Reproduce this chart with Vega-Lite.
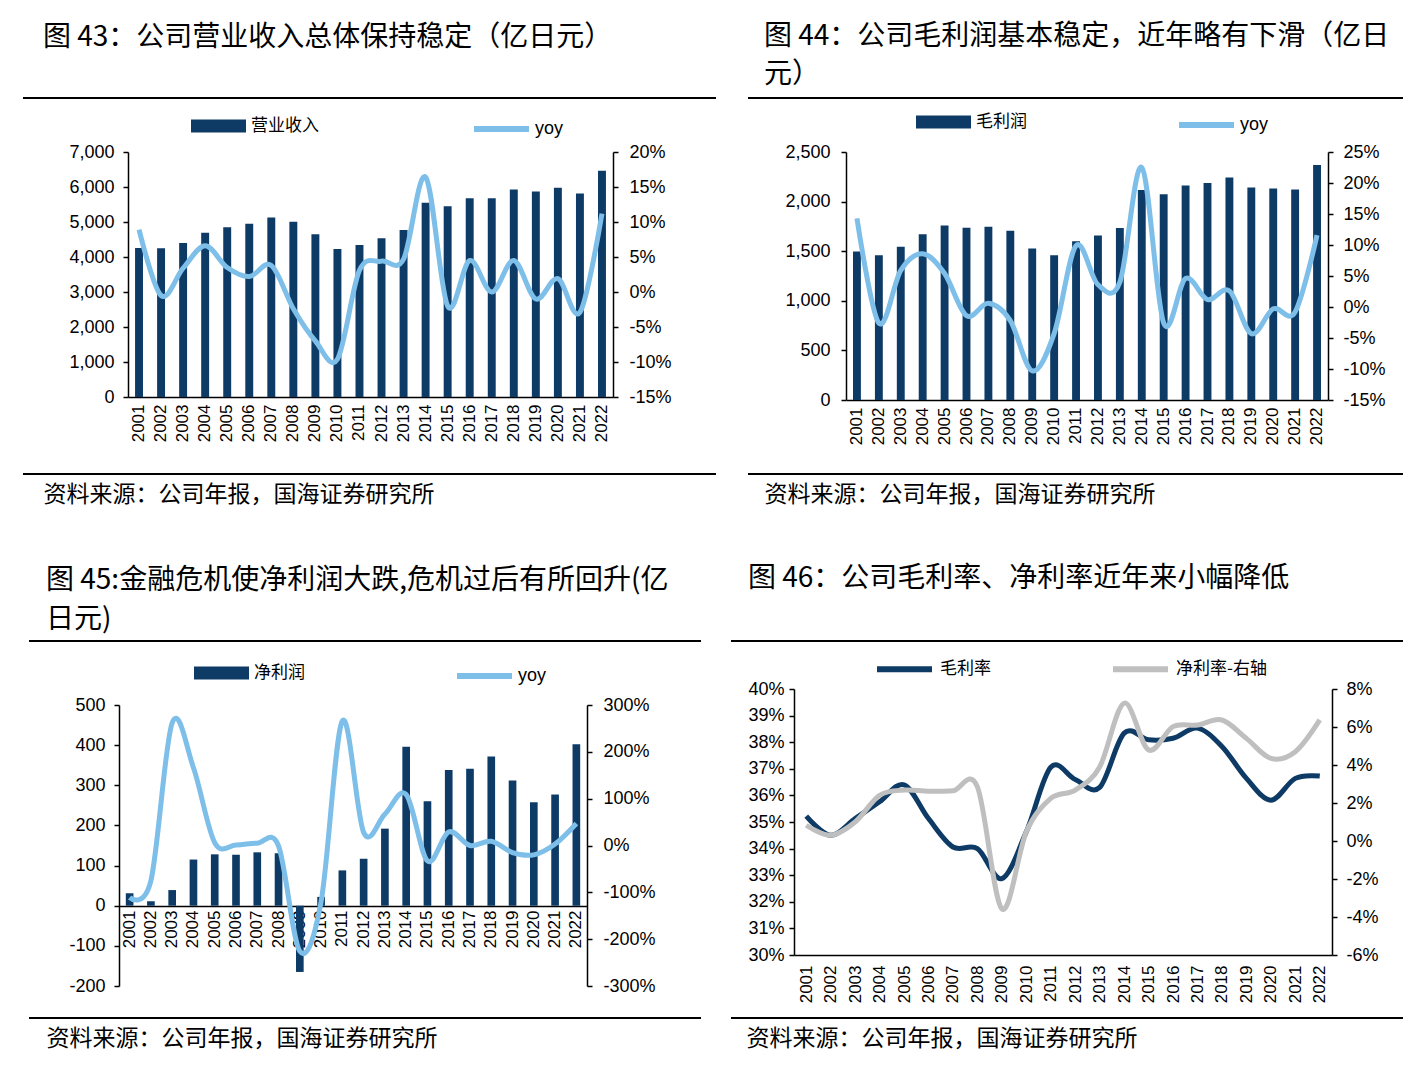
{
  "$schema": "https://vega.github.io/schema/vega-lite/v6.json",
  "background": "white",
  "padding": {"left": 22, "top": 21, "right": 0, "bottom": 0},
  "datasets": {
    "d1": [
      {"year": "2001", "rev": 4260, "yoy": 8.9},
      {"year": "2002", "rev": 4250, "yoy": -0.5},
      {"year": "2003", "rev": 4400, "yoy": 3.4},
      {"year": "2004", "rev": 4690, "yoy": 6.6},
      {"year": "2005", "rev": 4850, "yoy": 3.5},
      {"year": "2006", "rev": 4950, "yoy": 2.2},
      {"year": "2007", "rev": 5130, "yoy": 3.8},
      {"year": "2008", "rev": 5010, "yoy": -2.4},
      {"year": "2009", "rev": 4650, "yoy": -7.0},
      {"year": "2010", "rev": 4230, "yoy": -9.6},
      {"year": "2011", "rev": 4345, "yoy": 3.1},
      {"year": "2012", "rev": 4537, "yoy": 4.4},
      {"year": "2013", "rev": 4775, "yoy": 4.7},
      {"year": "2014", "rev": 5550, "yoy": 16.4},
      {"year": "2015", "rev": 5450, "yoy": -2.0},
      {"year": "2016", "rev": 5680, "yoy": 4.5},
      {"year": "2017", "rev": 5680, "yoy": 0.0},
      {"year": "2018", "rev": 5930, "yoy": 4.5},
      {"year": "2019", "rev": 5875, "yoy": -1.0},
      {"year": "2020", "rev": 5980, "yoy": 1.9},
      {"year": "2021", "rev": 5815, "yoy": -2.9},
      {"year": "2022", "rev": 6465, "yoy": 11.2}
    ],
    "d2": [
      {"year": "2001", "gp": 1497, "yoy": 14.3},
      {"year": "2002", "gp": 1460, "yoy": -2.6},
      {"year": "2003", "gp": 1544, "yoy": 5.9},
      {"year": "2004", "gp": 1672, "yoy": 8.6},
      {"year": "2005", "gp": 1760, "yoy": 5.4},
      {"year": "2006", "gp": 1736, "yoy": -1.4},
      {"year": "2007", "gp": 1746, "yoy": 0.6},
      {"year": "2008", "gp": 1706, "yoy": -2.2},
      {"year": "2009", "gp": 1527, "yoy": -10.3},
      {"year": "2010", "gp": 1460, "yoy": -4.3},
      {"year": "2011", "gp": 1601, "yoy": 9.9},
      {"year": "2012", "gp": 1659, "yoy": 3.6},
      {"year": "2013", "gp": 1733, "yoy": 4.0},
      {"year": "2014", "gp": 2116, "yoy": 22.5},
      {"year": "2015", "gp": 2073, "yoy": -2.6},
      {"year": "2016", "gp": 2163, "yoy": 4.6},
      {"year": "2017", "gp": 2187, "yoy": 1.2},
      {"year": "2018", "gp": 2244, "yoy": 2.6},
      {"year": "2019", "gp": 2143, "yoy": -4.3},
      {"year": "2020", "gp": 2133, "yoy": -0.3},
      {"year": "2021", "gp": 2123, "yoy": -0.8},
      {"year": "2022", "gp": 2369, "yoy": 11.6}
    ],
    "d3": [
      {"year": "2001", "np": 31, "yoy": -111},
      {"year": "2002", "np": 11, "yoy": -75},
      {"year": "2003", "np": 39, "yoy": 262},
      {"year": "2004", "np": 115, "yoy": 166},
      {"year": "2005", "np": 128, "yoy": 6},
      {"year": "2006", "np": 127, "yoy": 1},
      {"year": "2007", "np": 133, "yoy": 5},
      {"year": "2008", "np": 131, "yoy": -1},
      {"year": "2009", "np": -165, "yoy": -226},
      {"year": "2010", "np": 22, "yoy": -120},
      {"year": "2011", "np": 88, "yoy": 266},
      {"year": "2012", "np": 117, "yoy": 28},
      {"year": "2013", "np": 192, "yoy": 67},
      {"year": "2014", "np": 396, "yoy": 109},
      {"year": "2015", "np": 260, "yoy": -33},
      {"year": "2016", "np": 338, "yoy": 29},
      {"year": "2017", "np": 341, "yoy": 0},
      {"year": "2018", "np": 372, "yoy": 9},
      {"year": "2019", "np": 312, "yoy": -15},
      {"year": "2020", "np": 258, "yoy": -20},
      {"year": "2021", "np": 277, "yoy": 3},
      {"year": "2022", "np": 402, "yoy": 47}
    ],
    "d4": [
      {"year": "2001", "gm": 35.22, "nm": 0.83},
      {"year": "2002", "gm": 34.5, "nm": 0.3},
      {"year": "2003", "gm": 35.13, "nm": 1.0},
      {"year": "2004", "gm": 35.76, "nm": 2.4},
      {"year": "2005", "gm": 36.4, "nm": 2.68},
      {"year": "2006", "gm": 35.13, "nm": 2.62},
      {"year": "2007", "gm": 34.06, "nm": 2.64},
      {"year": "2008", "gm": 34.0, "nm": 2.85},
      {"year": "2009", "gm": 32.87, "nm": -3.57},
      {"year": "2010", "gm": 34.63, "nm": 0.48},
      {"year": "2011", "gm": 37.06, "nm": 2.24},
      {"year": "2012", "gm": 36.6, "nm": 2.68},
      {"year": "2013", "gm": 36.3, "nm": 3.9},
      {"year": "2014", "gm": 38.34, "nm": 7.25},
      {"year": "2015", "gm": 38.09, "nm": 4.79},
      {"year": "2016", "gm": 38.15, "nm": 6.02},
      {"year": "2017", "gm": 38.53, "nm": 6.1},
      {"year": "2018", "gm": 37.84, "nm": 6.37},
      {"year": "2019", "gm": 36.64, "nm": 5.4},
      {"year": "2020", "gm": 35.82, "nm": 4.35},
      {"year": "2021", "gm": 36.64, "nm": 4.7},
      {"year": "2022", "gm": 36.73, "nm": 6.37}
    ]
  },
  "config": {
    "font": "Liberation Sans",
    "view": {"stroke": null},
    "axis": {"grid": false, "labelFont": "Liberation Sans", "labelFontSize": 18, "labelColor": "#000", "domainColor": "#000", "tickColor": "#000", "domainWidth": 1.5, "tickWidth": 1.5, "tickSize": 5, "titleFont": "Noto Sans CJK SC", "titleFontSize": 23, "titleFontWeight": "normal", "titleColor": "#000"},
    "legend": {"padding": 0, "labelColor": "#000"},
    "title": {"font": "Noto Sans CJK SC", "fontWeight": "normal", "color": "#000", "anchor": "start", "frame": "group", "fontSize": 28, "baseline": "bottom"}
  },
  "concat": [
    {
      "width": 693, "height": 376,
      "view": {"stroke": "#000", "strokeWidth": 2, "strokeDash": [693, 376]},
      "title": {"text": "图 43：公司营业收入总体保持稳定（亿日元）", "dx": 20, "offset": 46},
      "data": {"name": "d1"},
      "encoding": {"x": {"field": "year", "type": "ordinal", "scale": {"range": [105, 590], "paddingInner": 0, "paddingOuter": 0},
        "axis": {"labelAngle": -90, "ticks": false, "labelPadding": 7, "labelFontSize": 17, "offset": -77, "title": "资料来源：公司年报，国海证券研究所", "titleX": 20, "titleY": 86, "titleAlign": "left", "titleBaseline": "top", "titleAngle": 0}}},
      "layer": [
        {"mark": {"type": "bar", "width": {"band": 0.36}},
         "encoding": {
           "y": {"field": "rev", "type": "quantitative", "title": null, "scale": {"domain": [0, 7000], "nice": false, "range": [299, 54]}, "axis": {"values": [0, 1000, 2000, 3000, 4000, 5000, 6000, 7000], "labelExpr": "format(datum.value, ',')", "labelPadding": 9, "offset": -105}},
           "fill": {"datum": "营业收入", "type": "nominal", "scale": {"range": ["#0d3b66"]}, "legend": {"orient": "none", "legendX": 168, "legendY": 0.5, "title": null, "symbolType": "M-1,-0.236H1V0.236H-1Z", "symbolSize": 3025, "symbolStrokeWidth": 0, "labelFont": "Noto Sans CJK SC", "labelFontSize": 17, "labelOffset": 5}}
         }},
        {"mark": {"type": "line", "interpolate": "cardinal", "strokeWidth": 5},
         "encoding": {
           "y": {"field": "yoy", "type": "quantitative", "title": null, "scale": {"domain": [-15, 20], "nice": false, "zero": false, "range": [299, 54]}, "axis": {"orient": "right", "values": [-15, -10, -5, 0, 5, 10, 15, 20], "labelExpr": "datum.value + '%'", "labelPadding": 11, "offset": -103}},
           "stroke": {"datum": "yoy", "type": "nominal", "scale": {"range": ["#7dbfe9"]}, "legend": {"orient": "none", "legendX": 448, "legendY": 0.5, "title": null, "symbolType": "stroke", "symbolSize": 3025, "symbolStrokeWidth": 6, "labelFont": "Liberation Sans", "labelFontSize": 18, "labelOffset": 3}}
         }}
      ],
      "resolve": {"scale": {"y": "independent"}}
    },
    {
      "width": 672, "height": 376,
      "view": {"stroke": "#000", "strokeWidth": 2, "strokeDash": [0, 17, 655, 376, 655, 393]},
      "title": {"text": ["图 44：公司毛利润基本稳定，近年略有下滑（亿日", "元）"], "dx": 33, "offset": 6, "lineHeight": 38},
      "data": {"name": "d2"},
      "encoding": {"x": {"field": "year", "type": "ordinal", "scale": {"range": [115, 597], "paddingInner": 0, "paddingOuter": 0},
        "axis": {"labelAngle": -90, "ticks": false, "labelPadding": 7, "labelFontSize": 17, "offset": -74, "title": "资料来源：公司年报，国海证券研究所", "titleX": 33, "titleY": 83, "titleAlign": "left", "titleBaseline": "top", "titleAngle": 0}}},
      "layer": [
        {"mark": {"type": "bar", "width": {"band": 0.36}},
         "encoding": {
           "y": {"field": "gp", "type": "quantitative", "title": null, "scale": {"domain": [0, 2500], "nice": false, "range": [302, 54]}, "axis": {"values": [0, 500, 1000, 1500, 2000, 2500], "labelExpr": "format(datum.value, ',')", "labelPadding": 11, "offset": -115}},
           "fill": {"datum": "毛利润", "type": "nominal", "scale": {"range": ["#0d3b66"]}, "legend": {"orient": "none", "legendX": 185, "legendY": -3.5, "title": null, "symbolType": "M-1,-0.236H1V0.236H-1Z", "symbolSize": 3025, "symbolStrokeWidth": 0, "labelFont": "Noto Sans CJK SC", "labelFontSize": 17, "labelOffset": 5}}
         }},
        {"mark": {"type": "line", "interpolate": "cardinal", "strokeWidth": 5},
         "encoding": {
           "y": {"field": "yoy", "type": "quantitative", "title": null, "scale": {"domain": [-15, 25], "nice": false, "zero": false, "range": [302, 54]}, "axis": {"orient": "right", "values": [-15, -10, -5, 0, 5, 10, 15, 20, 25], "labelExpr": "datum.value + '%'", "labelPadding": 10, "offset": -75}},
           "stroke": {"datum": "yoy", "type": "nominal", "scale": {"range": ["#7dbfe9"]}, "legend": {"orient": "none", "legendX": 445, "legendY": -3.5, "title": null, "symbolType": "stroke", "symbolSize": 3025, "symbolStrokeWidth": 6, "labelFont": "Liberation Sans", "labelFontSize": 18, "labelOffset": 3}}
         }}
      ],
      "resolve": {"scale": {"y": "independent"}}
    },
    {
      "width": 678, "height": 377,
      "view": {"stroke": "#000", "strokeWidth": 2, "strokeDash": [0, 6, 672, 377, 672, 383]},
      "title": {"text": ["图 45:金融危机使净利润大跌,危机过后有所回升(亿", "日元)"], "dx": 23, "offset": 7, "lineHeight": 39},
      "data": {"name": "d3"},
      "encoding": {"x": {"field": "year", "type": "ordinal", "scale": {"range": [96, 564], "paddingInner": 0, "paddingOuter": 0},
        "axis": {"labelAngle": -90, "ticks": false, "labelPadding": 4, "labelFontSize": 17, "offset": -112, "title": "资料来源：公司年报，国海证券研究所", "titleX": 23, "titleY": 121, "titleAlign": "left", "titleBaseline": "top", "titleAngle": 0}}},
      "layer": [
        {"mark": {"type": "bar", "width": {"band": 0.36}},
         "encoding": {
           "y": {"field": "np", "type": "quantitative", "title": null, "scale": {"domain": [-200, 500], "nice": false, "range": [345, 64]}, "axis": {"values": [-200, -100, 0, 100, 200, 300, 400, 500], "labelExpr": "'' + datum.value", "labelPadding": 9, "offset": -96}},
           "fill": {"datum": "净利润", "type": "nominal", "scale": {"range": ["#0d3b66"]}, "legend": {"orient": "none", "legendX": 171, "legendY": 4.5, "title": null, "symbolType": "M-1,-0.236H1V0.236H-1Z", "symbolSize": 3025, "symbolStrokeWidth": 0, "labelFont": "Noto Sans CJK SC", "labelFontSize": 17, "labelOffset": 5}}
         }},
        {"mark": {"type": "line", "interpolate": "cardinal", "strokeWidth": 5},
         "encoding": {
           "y": {"field": "yoy", "type": "quantitative", "title": null, "scale": {"domain": [-300, 300], "nice": false, "zero": false, "range": [345, 64]}, "axis": {"orient": "right", "values": [-300, -200, -100, 0, 100, 200, 300], "labelExpr": "datum.value + '%'", "labelPadding": 11, "offset": -114}},
           "stroke": {"datum": "yoy", "type": "nominal", "scale": {"range": ["#7dbfe9"]}, "legend": {"orient": "none", "legendX": 431, "legendY": 4.5, "title": null, "symbolType": "stroke", "symbolSize": 3025, "symbolStrokeWidth": 6, "labelFont": "Liberation Sans", "labelFontSize": 18, "labelOffset": 3}}
         }}
      ],
      "resolve": {"scale": {"y": "independent"}}
    },
    {
      "width": 672, "height": 377,
      "view": {"stroke": "#000", "strokeWidth": 2, "strokeDash": [672, 377]},
      "title": {"text": "图 46：公司毛利率、净利率近年来小幅降低", "dx": 17, "offset": 46},
      "data": {"name": "d4"},
      "encoding": {"x": {"field": "year", "type": "ordinal", "scale": {"range": [63, 601], "paddingInner": 0, "paddingOuter": 0},
        "axis": {"labelAngle": -90, "ticks": false, "labelPadding": 10, "labelFontSize": 17, "offset": -63, "title": "资料来源：公司年报，国海证券研究所", "titleX": 15, "titleY": 72, "titleAlign": "left", "titleBaseline": "top", "titleAngle": 0}}},
      "layer": [
        {"mark": {"type": "line", "interpolate": "cardinal", "strokeWidth": 5},
         "encoding": {
           "y": {"field": "gm", "type": "quantitative", "title": null, "scale": {"domain": [30, 40], "nice": false, "zero": false, "range": [314, 48]}, "axis": {"values": [30, 31, 32, 33, 34, 35, 36, 37, 38, 39, 40], "labelExpr": "datum.value + '%'", "labelPadding": 5, "offset": -63}},
           "stroke": {"datum": "毛利率", "type": "nominal", "scale": {"domain": ["毛利率", "净利率-右轴"], "range": ["#0d3b66", "#bfbfbf"]}, "legend": {"orient": "none", "direction": "horizontal", "legendX": 143, "legendY": -2.5, "title": null, "symbolType": "stroke", "symbolSize": 3025, "symbolStrokeWidth": 6, "labelFont": "Noto Sans CJK SC", "labelFontSize": 17, "labelOffset": 5, "columnPadding": 110}}
         }},
        {"mark": {"type": "line", "interpolate": "cardinal", "strokeWidth": 5},
         "encoding": {
           "y": {"field": "nm", "type": "quantitative", "title": null, "scale": {"domain": [-6, 8], "nice": false, "zero": false, "range": [314, 48]}, "axis": {"orient": "right", "values": [-6, -4, -2, 0, 2, 4, 6, 8], "labelExpr": "datum.value + '%'", "labelPadding": 9, "offset": -71}},
           "stroke": {"datum": "净利率-右轴", "type": "nominal"}
         }}
      ],
      "resolve": {"scale": {"y": "independent"}}
    }
  ],
  "columns": 2,
  "spacing": {"row": 167, "column": 15},
  "bounds": "flush",
  "resolve": {"scale": {"fill": "independent", "stroke": "independent"}, "legend": {"fill": "independent", "stroke": "independent"}}
}
